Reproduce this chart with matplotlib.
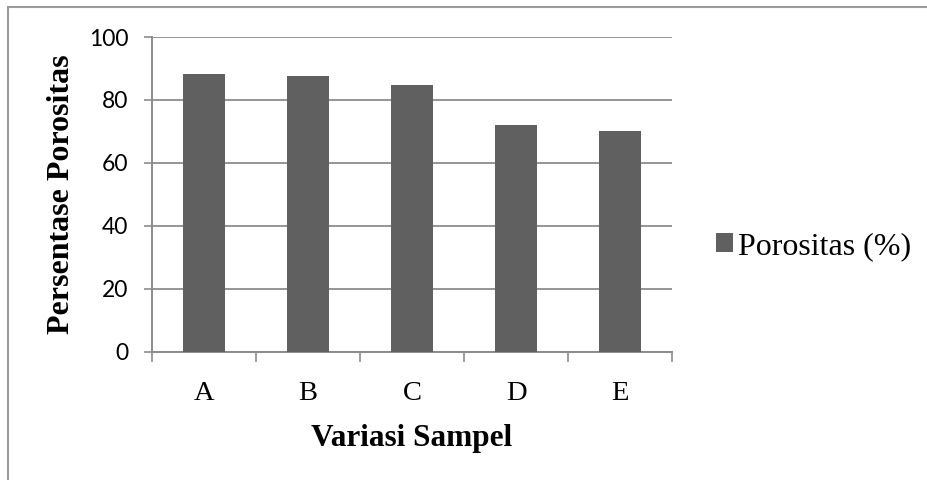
import matplotlib.pyplot as plt
from matplotlib.patches import Rectangle

# data
categories = ['A', 'B', 'C', 'D', 'E']
porositas = [88.3, 87.6, 84.7, 71.9, 70.0]
y_ticks = [0, 20, 40, 60, 80, 100]

BAR = '#606060'
GRID = '#8c8c8c'

fig = plt.figure(figsize=(9.28, 4.8), dpi=100)
fig.patches.append(Rectangle((8 / 928, -0.1), 1.2, (480 - 7) / 480 + 0.1,
                             transform=fig.transFigure, fill=False,
                             edgecolor='#9a9a9a', linewidth=1.5))
ax = fig.add_axes([152 / 928, 1 - 351.7 / 480, 520 / 928, (351.7 - 37) / 480])

x = list(range(len(categories)))
bars = ax.bar(x, porositas, width=0.4, color=BAR, label='Porositas (%)', zorder=3)

ax.set_xlim(-0.5, len(categories) - 0.5)
ax.set_ylim(0, 100)
ax.set_yticks(y_ticks)
ax.set_yticklabels([str(v) for v in y_ticks], fontfamily='Lato', fontsize=16.5)
ax.tick_params(axis='y', length=6, width=1.2, color=GRID, pad=11)

ax.set_xticks(x)
ax.set_xticklabels(categories, fontfamily='Liberation Serif', fontsize=20.5)
ax.tick_params(axis='x', which='major', length=0, pad=21)
ax.set_xticks([i - 0.5 for i in range(len(categories) + 1)], minor=True)
ax.tick_params(axis='x', which='minor', length=7, width=1.2, color=GRID)

ax.yaxis.grid(True, color=GRID, linewidth=1.3, zorder=0)
for s in ['top', 'right']:
    ax.spines[s].set_visible(False)
for s in ['left', 'bottom']:
    ax.spines[s].set_color(GRID)
    ax.spines[s].set_linewidth(1.4)

ax.set_xlabel('Variasi Sampel', fontfamily='Liberation Serif', fontweight='bold',
              fontsize=22.5, labelpad=13)
ax.set_ylabel('Persentase Porositas', fontfamily='Liberation Serif', fontweight='bold',
              fontsize=23, labelpad=9)

leg = ax.legend(loc='center left', bbox_to_anchor=(1.03, 0.335), frameon=False,
                prop={'family': 'Liberation Serif', 'size': 23},
                handlelength=0.53, handleheight=0.53, handletextpad=0.15)

fig.savefig('out.png', dpi=100)
